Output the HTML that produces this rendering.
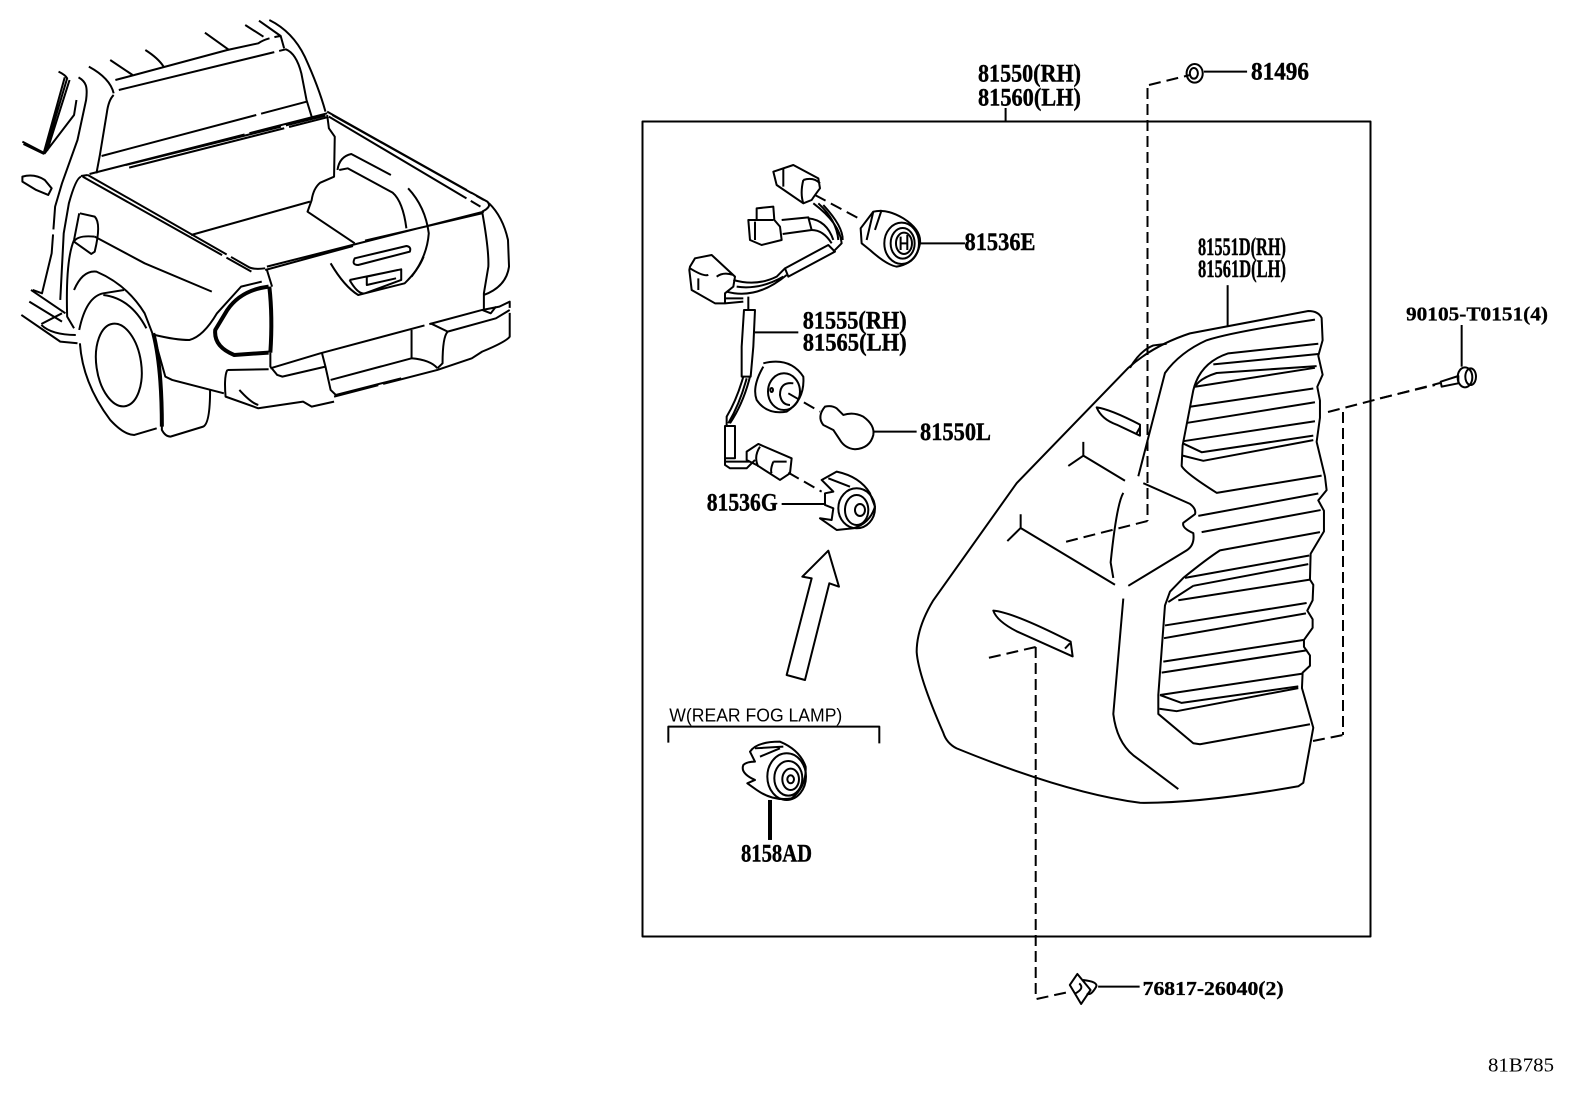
<!DOCTYPE html>
<html><head><meta charset="utf-8"><style>
html,body{margin:0;padding:0;background:#fff;width:1592px;height:1099px;overflow:hidden}
svg{display:block}
path,ellipse,rect,line{fill:none;stroke:#000;stroke-width:2;vector-effect:non-scaling-stroke;stroke-linejoin:round}
.w{fill:#fff}
.t{stroke-width:4}
.d{stroke-dasharray:12 6}
.v{stroke-dasharray:11 5}
.l{stroke-dasharray:160 5 90 5}
text{font-family:"Liberation Serif",serif;font-weight:700;font-size:25px;fill:#000;stroke:#000;stroke-width:.4}
.s{font-size:20px;stroke-width:.3}
.n{stroke-width:0}
</style></head><body>
<svg width="1592" height="1099" viewBox="0 0 1592 1099" xmlns="http://www.w3.org/2000/svg">

<!-- truck -->
<g transform="scale(0.3444,0.3333)">
<path d="M170,215Q190,225 195,235L130,460L65,425M188,232L128,455M202,240L137,452M68,432L128,462M222,300L215,345L130,460"/>
<path class="l" d="M228,232C250,245 255,260 250,300L225,420L180,550L160,620L150,760L122,880L95,870"/>
<path d="M65,530Q100,520 130,540L150,565L140,585L105,570L65,545Z"/>
<path d="M258,200Q320,235 330,280M320,180L385,225M422,150Q460,175 475,200M595,98L665,150M712,75L765,110M752,62L815,108M782,60Q850,95 885,170Q925,260 945,335"/>
<path class="l" d="M335,240L390,225L660,150L750,130Q770,115 815,108L825,145M345,270L830,148Q860,160 875,220L890,300L905,350"/>
<path d="M330,285Q315,300 310,340L290,465L280,520"/>
<path class="l" d="M295,468L890,305"/>
<path class="l" d="M260,522L950,340M365,495L945,347M375,503L950,352"/>
<path class="l" d="M950,335L1415,605Q1430,620 1400,635M955,350L1395,620M965,345L1405,600"/>
<path d="M950,345L955,385L972,410L970,530L930,548Q910,565 905,600L893,635L1030,730"/>
<path d="M980,510Q985,470 1020,462L1135,525M985,510L1010,505L1140,578Q1170,605 1180,685M1185,565Q1235,620 1245,700Q1240,770 1195,830"/>
<path class="l" d="M555,705L900,605"/>
<path class="l" d="M240,530L730,815M255,525L720,800Q735,810 770,805M235,528L255,525"/>
<path class="l" d="M775,800L1405,635M770,810L1025,738M1060,722L1400,640"/>
<path d="M1400,635Q1420,750 1418,800L1405,880V930M1420,610Q1460,650 1475,720L1478,800Q1470,860 1405,885"/>
<path class="t" d="M780,860Q700,870 660,930L625,990Q620,1040 680,1065L780,1058"/>
<path class="t" d="M782,860Q792,950 785,1058"/>
<path d="M775,810L790,860M785,1058V1100L805,1125L820,1130L945,1100"/>
<path d="M1030,775L1180,738Q1195,740 1190,755L1040,795Q1020,795 1030,775Z"/>
<path d="M960,790Q1000,860 1040,885L1175,850Q1215,810 1230,770M1015,840L1165,808V840L1060,880Q1040,885 1015,840M1065,830L1155,810M1065,830V855L1150,835"/>
<path d="M230,640L215,720M232,640L275,650Q295,670 275,755L265,762L215,725Q225,705 275,710"/>
<path class="l" d="M275,710L420,790L615,875"/>
<path d="M235,530Q220,535 200,610L185,700L175,900M215,720Q190,780 195,950L215,985"/>
<path d="M215,870Q240,810 280,815Q370,855 420,940L450,1020L480,1130L500,1140L650,1180"/>
<path d="M230,990Q250,890 300,880L360,870M232,1030Q240,1150 320,1260Q360,1305 390,1305L455,1285"/>
<path d="M300,885Q380,895 425,985"/>
<path class="t" d="M445,1000Q470,1100 470,1280"/>
<ellipse cx="345" cy="1095" rx="65" ry="125" transform="rotate(-8 345 1095)"/>
<path d="M470,1240L470,1290Q480,1310 495,1310L590,1280Q610,1270 610,1170"/>
<path d="M90,870L190,940M85,905L180,965M62,945L175,1025L225,1030M120,972L180,940M120,975Q150,1005 220,1005"/>
<path d="M450,1005Q510,1020 550,1020Q590,1010 630,940L700,860L760,845"/>
<path class="l" d="M785,1105L930,1060L1400,930L1450,920L1480,905V1010Q1470,1025 1400,1055L1370,1075L1270,1110L970,1190"/>
<path d="M660,1110L780,1108M660,1110Q650,1130 655,1190L750,1225L880,1205L905,1220L970,1205M695,1170Q730,1210 750,1215"/>
<path d="M935,1060L945,1100L960,1170L975,1185L1165,1135M960,1140L1195,1075M1195,1075V990M1195,1075Q1250,1080 1270,1105M1250,970L1300,995Q1285,1010 1285,1090L1270,1105M1300,995L1440,955L1480,930M1400,930L1425,940L1440,920"/>
</g>

<!-- main box -->
<rect x="642.5" y="121.5" width="728" height="815"/>
<line x1="1005.6" y1="108" x2="1005.6" y2="121"/>

<!-- dashed helpers -->
<path class="v" d="M1147.5,88V521"/>
<path class="d" d="M1149,85L1190,75"/>
<path class="d" d="M1147.5,521L1065,542"/>
<path class="v" d="M1035.7,647V998"/>
<path class="d" d="M1036.6,999L1070,991.7"/>
<path class="d" d="M1035.7,647L988,658"/>
<path class="d" d="M1328,412L1440,383"/>
<path class="v" d="M1343,412V735"/>
<path class="d" d="M1313,741L1343,735"/>

<!-- harness / sockets (zoom 2 coords) -->
<g transform="translate(640,140) scale(0.3333)">
<path class="w" d="M400,95L460,75L535,115L540,145Q525,165 515,180L490,190L410,135Z"/>
<path d="M430,85L430,140M490,120Q480,160 490,190M490,120Q520,110 540,130"/>
<path class="d" d="M525,165L665,240"/>
<path class="w" d="M700,215Q740,205 790,235Q845,270 840,310Q830,370 770,380Q740,375 690,330L665,310L662,265Z"/>
<ellipse cx="785" cy="310" rx="52" ry="62"/>
<ellipse cx="788" cy="310" rx="36" ry="46"/>
<ellipse cx="792" cy="310" rx="24" ry="32"/>
<path d="M782,290V330M802,285V330M782,310H802M700,215L680,300M725,210L705,270"/>
<path d="M840,310H975"/>
<path d="M350,205L400,200L403,240L420,260L425,300L365,315L330,300L325,240L350,240ZM350,240L400,240M345,245V300M425,240L505,232L515,270L428,282"/>
<path d="M520,190Q600,250 605,310L580,335M535,190Q590,240 595,300M550,195Q610,260 608,300M505,235Q560,240 580,300M515,270Q550,270 575,310"/>
<path d="M435,385L565,315L585,335L445,410Z"/>
<path d="M280,420Q350,440 410,410L435,385M290,440Q360,450 430,410M260,455Q350,480 440,405"/>
<path d="M150,380L165,355L215,345L285,410L280,440L255,460L255,490L225,490L155,450L148,390ZM150,385Q190,410 205,405M230,410Q250,395 280,405M175,415V450M255,490L310,485M255,475H310"/>
<path d="M312,510H345L340,620L332,710H305V620ZM325,470V510"/>
<path d="M310,710Q290,780 260,830V860M330,710Q310,790 270,850M320,715Q300,790 265,850"/>
<path d="M255,858H285V955H255ZM255,955V975L270,985H320L345,960M255,965H330"/>
<path d="M345,577H475"/>
<path d="M370,670Q450,650 490,710Q495,780 440,815Q380,825 350,780Q335,740 370,680"/>
<ellipse cx="432" cy="755" rx="48" ry="55"/>
<path d="M460,730Q420,725 420,765Q425,795 450,795"/>
<ellipse cx="395" cy="750" rx="4" ry="6"/>
<path class="d" d="M445,760L540,815"/>
<path d="M555,800Q575,795 590,805L610,825Q640,815 670,830Q705,855 700,885Q690,925 645,928Q615,925 600,900L580,870L550,855Q530,830 555,800Z"/>
<path d="M700,875H830"/>
<path d="M320,935L355,912L455,955L450,1000L420,1020L350,975L320,960ZM360,920Q340,950 355,980M400,965Q390,990 395,1000M400,965H440"/>
<path class="d" d="M445,998L545,1055"/>
<path d="M545,1020L590,995Q660,1010 690,1060L705,1100Q690,1150 640,1165L590,1170L540,1135L575,1140L580,1105L555,1095V1060L580,1055ZM565,1015L630,1040"/>
<ellipse cx="650" cy="1105" rx="55" ry="60"/>
<ellipse cx="650" cy="1110" rx="35" ry="45"/>
<ellipse cx="660" cy="1110" rx="15" ry="18"/>
<path d="M425,1092H555"/>
</g>

<!-- arrow, fog lamp (zoom 4 coords) -->
<g transform="translate(640,540) scale(0.3333)">
<path d="M565,32L597,140L568,130L495,420L440,405L515,115L487,110Z"/>
<path d="M85,608V560H718V610"/>
<path d="M330,635Q350,605 420,605Q480,630 497,680Q500,740 455,775Q400,785 350,750L322,730L345,720Q300,700 310,675Q320,665 345,665Z"/>
<path d="M345,625L430,620M360,650L420,625"/>
<ellipse cx="440" cy="710" rx="58" ry="70"/>
<ellipse cx="445" cy="715" rx="42" ry="52"/>
<ellipse cx="452" cy="718" rx="25" ry="32"/>
<ellipse cx="452" cy="718" rx="10" ry="12"/>
<path class="t" d="M390,780V900"/>
</g>

<!-- tail lamp (zoom 3 coords) -->
<g transform="translate(900,280) scale(0.3333,0.3444)">
<path d="M983,15V135"/>
<path d="M690,255Q720,205 760,190L800,185"/>
<path d="M685,255Q760,190 870,155L1225,90Q1255,90 1265,110L1268,175L1255,220L1268,275L1252,310L1260,350V400L1250,470L1275,570L1280,610L1255,640L1272,670V730L1232,795L1230,870L1240,885L1238,930L1222,960L1238,985V1010L1212,1045V1065L1230,1090V1120L1208,1140L1206,1185L1240,1300L1210,1460L1195,1470Q900,1520 720,1518Q500,1490 170,1360Q140,1345 130,1315Q55,1150 50,1080Q50,1010 100,930L350,590Z"/>
<path d="M1245,115Q1000,150 920,175Q840,210 795,270L715,570"/>
<path d="M1255,185L985,213Q900,240 880,320L848,480L845,540Q855,560 950,618L1265,568"/>
<path d="M1255,215L940,245M1250,250L950,270Q900,285 885,310L1245,255M870,368L1240,315M860,415L1245,355M850,468L1245,410M850,475L905,500L1240,452M848,510L910,525L1240,465"/>
<path d="M730,590L870,650Q890,665 885,680L850,705Q845,720 880,735Q885,770 860,785L685,888M895,685L1255,620M905,732L1262,668"/>
<path d="M1260,732L960,785Q920,810 850,865L810,905L795,945L775,1205V1260L880,1345L900,1348L1230,1290"/>
<path d="M855,865L1228,800M880,888L1225,825M805,935L880,888M835,930L1230,870M795,1003L1220,938M792,1040L1218,968M790,1108L1212,1045M785,1140L1222,1075M780,1205L1208,1143M780,1205L845,1228L1195,1180M778,1245L830,1252L1195,1185"/>
<path d="M670,925L640,1260Q650,1340 700,1380L835,1478"/>
<path d="M550,470V510M505,540L550,510L675,583M362,680V720M322,758L362,720L645,885M670,618Q650,650 632,820L640,865"/>
<path d="M590,370Q630,375 720,420L720,452L650,420Q605,405 590,370ZM710,445L720,428"/>
<path d="M280,960Q340,965 512,1050L518,1093L350,1020Q290,990 280,960ZM495,1070L510,1055"/>
</g>

<!-- 81496 clip -->
<g transform="translate(960,40) scale(0.4032,0.3333)">
<ellipse cx="582" cy="100" rx="20" ry="28"/>
<ellipse cx="580" cy="100" rx="10" ry="16"/>
<path d="M605,95H712"/>
</g>

<!-- 76817 clip -->
<g transform="translate(1000,900) scale(0.3774,0.3333)">
<path d="M205,222L185,255L215,312L240,270ZM220,240Q260,245 255,260Q240,290 230,280M210,250Q225,265 200,280"/>
<path d="M260,260H370"/>
</g>

<!-- bolt -->
<g transform="translate(1380,280) scale(0.3333)">
<path d="M245,135V260"/>
<path d="M0,355L165,315" class="d"/>
<path d="M182,305L235,288V310L185,320Z"/>
<ellipse cx="255" cy="292" rx="22" ry="30"/>
<ellipse cx="272" cy="290" rx="16" ry="25"/>
</g>

<!-- labels -->
<text x="978" y="81.7" textLength="103" lengthAdjust="spacingAndGlyphs">81550(RH)</text>
<text x="978" y="105.7" textLength="103" lengthAdjust="spacingAndGlyphs">81560(LH)</text>
<text x="1251" y="79.3" textLength="58" lengthAdjust="spacingAndGlyphs">81496</text>
<text x="964.5" y="250" textLength="71" lengthAdjust="spacingAndGlyphs">81536E</text>
<text x="1198" y="255" textLength="88" lengthAdjust="spacingAndGlyphs">81551D(RH)</text>
<text x="1198" y="277" textLength="88" lengthAdjust="spacingAndGlyphs">81561D(LH)</text>
<text x="802.7" y="328.3" textLength="104" lengthAdjust="spacingAndGlyphs">81555(RH)</text>
<text x="802.7" y="350.7" textLength="104" lengthAdjust="spacingAndGlyphs">81565(LH)</text>
<text x="920" y="440" textLength="71" lengthAdjust="spacingAndGlyphs">81550L</text>
<text x="706.7" y="510.7" textLength="71" lengthAdjust="spacingAndGlyphs">81536G</text>
<text x="741" y="861.7" textLength="71" lengthAdjust="spacingAndGlyphs">8158AD</text>
<text class="s" x="1406" y="320.7" textLength="142" lengthAdjust="spacingAndGlyphs">90105-T0151(4)</text>
<text class="s" x="1142.6" y="995" textLength="141" lengthAdjust="spacingAndGlyphs">76817-26040(2)</text>
<text class="n" x="669.3" y="721.7" textLength="173" lengthAdjust="spacingAndGlyphs" style="font-family:'Liberation Sans',sans-serif;font-weight:400;font-size:18px">W(REAR FOG LAMP)</text>
<text class="n" x="1488" y="1071.7" textLength="66" lengthAdjust="spacingAndGlyphs" style="font-weight:400;font-size:20px">81B785</text>
</svg>
</body></html>
